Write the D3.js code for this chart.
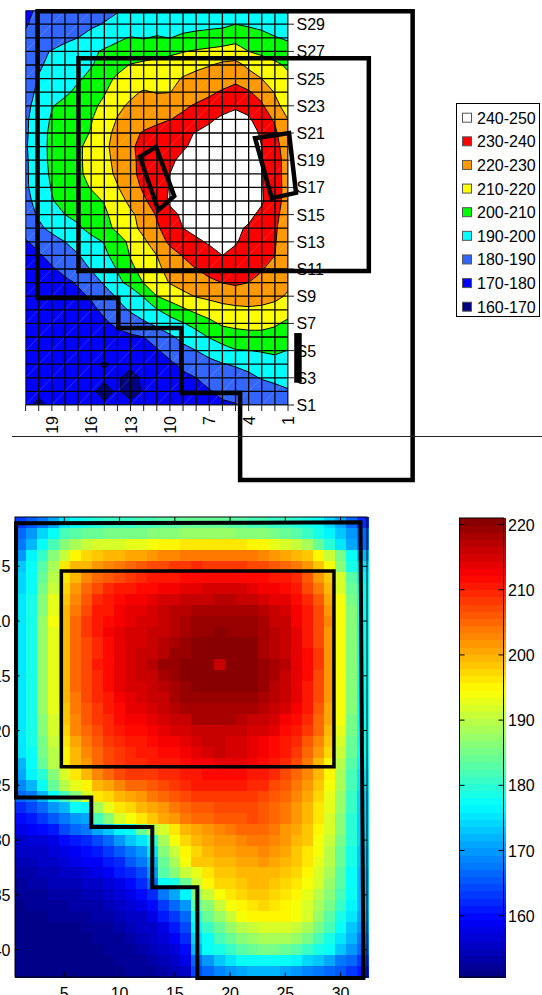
<!DOCTYPE html>
<html>
<head>
<meta charset="utf-8">
<title>Contour and heat map</title>
<script src="https://cdn.jsdelivr.net/npm/d3@7"></script>
<style>
  html, body { margin: 0; padding: 0; background: #fff; overflow: hidden; }
  svg { display: block; }
  text { font-family: "Liberation Sans", Arial, sans-serif; font-size: 16px; fill: #000; }
</style>
</head>
<body>
<svg id="chart" width="542" height="995"></svg>
<script>
// Upper chart: rows run from S30 (top) to S1, columns from 21 (left) to 1
const topValues = [
  [178,181.5,183,184,185,186,187.5,189.5,190.5,191,191.5,192,192,192.5,193,193,193,192,191,190.5,189],
  [179.5,182,184,185.5,187,188.5,190.5,192.5,193.5,194,194.5,195,196,197,197.5,198,200,198.5,197.5,196,194],
  [181,184,186,188,190,193,196,198.5,200.5,199.5,201,199.8,202,203,204,205,207,206,203,200.5,199],
  [183,188,190.5,193,196,198.5,201,203,204,205,206,207.5,209.5,211,212,213,214,210,208,205.5,203],
  [184,189,192,195,197.5,199.5,203,207,210.5,212,213.5,215,217,218.5,219.5,222,223,218,214.5,212,208.5],
  [186,190.5,193,196,199,202,207,211.5,213,215,216,218,220.5,222,224.5,226,228,224,220,216,212],
  [187,191.5,195,198.5,202,206,209.5,213.5,218,221,219.5,219.8,223,226,228.5,231,233,231,226,219.5,214.5],
  [188,193,199.5,202.5,205,208.5,211.5,218,221.5,223.5,225,226.5,228.5,231,233,236,238.5,236,231.5,222,217],
  [188.5,195,201,203.5,206.5,209.5,215,220.5,223,225.5,228,229.8,232,235,238.5,242,244,241.5,234,229,220],
  [188.5,196,202,205,207.5,210.5,217,222.5,227,231,233,235.5,238,240.5,243,245,246,243,239,231.5,223],
  [189,196.5,202,205.5,208.5,213,218,223.5,229,232,234.5,237,239,242,244,246,246.5,244,240,233,225],
  [188.5,196,202,205.5,208.5,213,217.5,222.5,228.5,232,235,238.5,242,244,246,247,247,245,240.5,234,226],
  [188.5,195.5,201.5,205,208.5,212.5,217,221.5,228,232.5,236,240,243,245,246.5,247.5,247,245,240.5,234,226],
  [188.5,195,200.5,204,207.5,210.5,214.5,219.5,225.5,231.5,236,240.5,243,245,246.5,247,246.5,245,240.5,234.5,226],
  [187.5,193,199.5,202.5,205,207.5,210.5,216.5,222,228.5,234.5,241.5,243.5,245,246,246.5,246,245,241,234,226],
  [186.5,191,196,200,202.5,205.5,208.5,213.5,218.5,223,231,237.5,241.5,243.5,245,245.5,244.5,242,238,232,226],
  [185,188.5,192,195,198.5,203,207,212,217,222.5,228.5,235,240,242.5,243.5,244,241.5,239,236,231,225.5],
  [179,183,187,190,193.5,197,200.5,206,212,218.5,224.5,232,235.5,238.5,241,242,240.5,238,235,230.5,225],
  [176,179,183,186.5,189.5,193.5,198,204,210.5,215,220,226,230.5,234,237,240,238.5,236,233.5,230,224],
  [173,176.5,179,182.5,186.5,190.5,195,200.5,208.5,212.5,218,223,226.5,230,233,235,235,233.5,230.5,227,222.5],
  [172,173.5,175.5,178,181,186,191,198.5,202,210.5,215.5,220.5,223,225.5,228,230.2,231.5,230,228,225,221.5],
  [171.5,172.5,174,176,178,181,186,191,196,200.5,210,214,218,220.5,222,223.5,224.5,225,224,222,219],
  [171,171.5,172.5,174,175.5,178,182,187,191,195.5,199.5,204,208.5,212.5,215,217,218,218.5,218,217,213],
  [171,171,172,173,174.5,176.5,178.5,182,185.5,188.5,192,196,199.5,203,207.5,211.5,212.5,213,212.5,211,208.5],
  [171,170.5,171,172,173,174.5,175.5,177,178.5,180,184.5,188.5,192.5,196.5,200.5,204,206,207,207.5,207,204],
  [171,170.5,171,171.5,172,172.5,172.5,173.5,175,177,179,184,187.5,190,193,196.5,199.5,199.8,201,203,199.5],
  [171,171,171,171,171,171,169.5,171,172,173,175,178,182.5,185,187.5,189.5,191,192,192.5,193.5,193.5],
  [171,171,171,171,171,171,171,171,167,171.5,173,175,177.5,180,182.5,184.5,186,188.5,190.5,191.5,192],
  [171,171,171,171,171,171,168,171,167,171,172,173.5,175,177,179.5,181.5,183.5,185,186.5,188,189.5],
  [171,169,171,171,171,171,171,171,172,172,172,172,173,174,176.5,179,179.5,182,183,185,186]
];
const topColTicks = [19, 16, 13, 10, 7, 4, 1];
const topRowTicks = [29, 27, 25, 23, 21, 19, 17, 15, 13, 11, 9, 7, 5, 3, 1];
const bandThresholds = [170, 180, 190, 200, 210, 220, 230, 240];
const bandColors = ["#0000ff", "#3366ff", "#00ffff", "#00ff00", "#ffff00", "#ff9900", "#ff0000", "#ffffff"];
const baseColor = "#000080";
const legendLabels = ["240-250", "230-240", "220-230", "210-220", "200-210", "190-200", "180-190", "170-180", "160-170"];
const legendColors = ["#ffffff", "#ff0000", "#ff9900", "#ffff00", "#00ff00", "#00ffff", "#3366ff", "#0000ff", "#000080"];

// Black outlines drawn over the upper chart, in [column, row] units
const topOutline = [[20.09,29.96],[-8.5,29.96],[-8.5,-4.51],[4.65,-4.51],[4.65,1.88],[9.14,1.88],[9.14,6.66],[13.93,6.66],[13.93,8.86],[20.09,8.86]];
const topInner = [[16.97,26.5],[-5.16,26.5],[-5.16,10.85],[16.97,10.85]];
const topLeftBox = [[12.29,19.25],[11.06,19.98],[9.67,16.36],[10.89,15.33]];
const topRightBox = [[3.51,20.62],[0.92,20.99],[0.39,16.6],[2.24,16.21]];
const topBar = [[0.24,6.29],[0.24,2.64]];

// Lower chart: 42 rows from top to bottom, 32 columns
const heatValues = [
  [163,165,168,171,175,178,179,180,181,181,181,182,182,183,183,184,184,184,184,183,183,182,182,181,181,180,179,177,174,171,167,162],
  [167,170,174,178,182,183,184,184,185,185,185,185,186,186,186,187,187,187,187,187,186,186,186,185,184,183,181,179,176,173,170,166],
  [168,172,178,182,186,189,191,192,192,192,193,193,194,195,195,196,196,196,196,196,196,195,195,193,192,191,188,184,180,175,171,167],
  [170,176,181,186,191,195,197,198,199,200,200.5,201,202,202.5,203,203.5,203.5,203.5,203.5,203.5,203.5,203.5,203,202,201,200,198,195,191,185,178,172],
  [173,177,183,189,196,199,200,202,203,204,205.5,206,207,207.5,208,208,209,208.5,208.5,208.5,208.5,207.5,207,206.5,205.5,204,202,198,194.5,186,179,175],
  [174,177.5,184,190,196,200,203,205,206.5,207.5,208.5,209.5,210,210.5,211,211.5,212,212,212,212,212,212,211.5,211,210.5,209,206,202,198,191.5,183,176],
  [174.5,178,185,191,197,202,205,207.5,209,210,211,211.5,212,213,213,213.5,214,214.5,215,215,214.5,214,213,212.5,212,210,207.5,204,199,192,184,177],
  [175,178.5,186,192.5,198,203,206,209,210.5,211.5,212.5,213,214,214.5,215,215.5,216,216,217,217,216.5,216,215,214,213.5,212,209.5,206,201,193.5,185,178],
  [175,179,186.5,193,199,204,207,210,211,212.5,213.5,214,214.5,216,217,217.5,218.5,218.5,218.5,218.5,218.5,218.5,217,216,215,212.5,210.5,207,202,194,186,178],
  [175,179,187,193.5,199.5,204.5,208,210.5,212,213,214,214.5,215,216.5,217.5,218,219,219,219,219,219,219,218,216.5,215.5,213,211,207.5,202.5,194,186,178],
  [175,179,187,193,199.5,205,208,210.5,212.5,214,214.5,215,216,216.5,217.5,218.5,219.5,219,220,219,219,219,218,217,216,213.5,211,207.5,202,194,186,178],
  [175,179,187,193,199.5,205,207.5,209.5,212,214,214.5,215,216,217,218,219,220.5,220.5,220.5,220.5,220.5,220,218.5,217.5,216,214,211,207.5,202,194,186,178],
  [175,179,187,193,199.5,204.5,207.5,209.5,212,214,215,215.5,216.5,217.5,219.5,219.5,220.5,220.5,220.5,220.5,220.5,220,218.5,217.5,216.5,214,211.5,208,202,194,186,178],
  [175,179,187,193,199.5,204.5,207.5,210,212,214,215,216,217,219,219,220.5,220.5,221,215.5,221,221,220,219,218,217,214,211.5,208,202,194,186,178],
  [175,179,187,193,199.5,204.5,207.5,209.5,212,214,215,215.5,216.5,218,219,220,221,221,221,221,221,220.5,219,218,216.5,214,211.5,207.5,202,194,186,178],
  [175,179,187,193,199.5,204.5,207,209,211.5,213.5,214.5,215,216,217,218.5,219.5,220.5,220.5,220.5,220.5,220.5,220,219,217.5,216,213.5,211,207.5,202,194,186,178],
  [175,179,187,192.5,199,204,207,209,211,213,214,214.5,215.5,216.5,218,219,219.5,219.5,219.5,219.5,219.5,219.5,218,217,215.5,213.5,211,207,201.5,194,186,178],
  [175,179,187,192.5,198.5,203.5,206.5,208.5,210.5,212,213.5,214,215,216,217,218,218.5,218.5,218.5,218.5,218.5,218,217,216,214.5,212.5,210,206.5,201,193.5,186,178],
  [175,179,186.5,192,198,203,206,208,209.5,211.5,212.5,213,214,215,215.5,216.5,218,218,218,218,217,216.5,215.5,214.5,213,211.5,209,205.5,200.5,193.5,185.5,178],
  [175,179,186,191.5,197,202.5,205,207,209,210.5,211.5,212,213,214,214.5,215,216,216.5,216.5,216,215.5,215,214.5,213.5,212,210.5,208,204.5,199.5,192.5,185,178],
  [175,178.5,185.5,191,196.5,201,204,206,208,209.5,210.5,211,212,212.5,213,214,215,215.5,215.5,215,214.5,214,213,212,211,209,206.5,203,198,191.5,184.5,177.5],
  [175,178,185,190,195.5,200,203,205,207,208.5,209.5,210,210.5,211.5,212,212.5,214,215,215.5,215,214.5,213.5,212.5,211.5,210,208,205.5,202,197,191,184,177],
  [172,177,184,189.5,195,199,202,205,207,208.5,209.5,209.5,210,210.5,211,211.5,212.5,213,214,213.5,213.5,212.5,211.5,210.5,209,207,204,200,195.5,190,183,176],
  [171,176,180,186,192,196,200,203,205,207,208,208,208.5,209,209.5,210,211,212,212,212,212,211,210,209,207.5,205.5,203,199,195,189,182,175],
  [169,172,178,184,189.5,193,195,199,201,203,205,205.5,206,207,208,209,210,210,210,210,210,209.5,209,207.5,206,204,202,198,194,188.5,182,175],
  [166,168,172.5,177.5,181.5,186.5,192,196,197.5,199,200.5,202,203.5,205,206,207.5,208,208,208,208,208,208,207.5,206.5,205,203,200.5,197,193,187.5,181,174.5],
  [162,164,167,170,172.5,177,176,189,193,196,197.5,199,200.5,202,203.5,205,206,206.5,207,207,207,207,206.5,205.5,204,202,200,196.5,192.5,187,180.5,174],
  [160,161,163.5,165.5,168,170,171,181.5,186,191.5,194,196,198,200.5,202,203.5,204.5,205.5,206,206.5,206.5,207,206,205,203.5,201.5,199.5,196,192,186.5,180,174],
  [158,159,160,161.5,164,166,167.5,171,173,176,178,184,190,192,196.5,199,200.5,202,203,204,205,205.5,205,203.5,202,200.5,198.5,195,191.5,186,180,174],
  [156,156.5,157,158,159.5,161,162.5,164,166.5,170,173,175,180,189,193.5,197,199,200.5,201.5,202,203,204,204,203,201.5,200,198,194.5,191,185.5,179.5,174],
  [155,155.5,156,156.5,158,159,160,161.5,163,165,167.5,170,175,186,191,195.5,197.5,199,200.5,201,201.5,202,202.5,202,200.5,198.5,196.5,193.5,190,184.5,179,173.5],
  [154,154.5,155,155.5,156.5,157.5,158.5,159,160.5,162,165,168,172.5,184.5,189,194.5,198,198.5,199.5,200,200.5,201,201.5,201,199.5,198,196,193,189.5,184,178.5,173],
  [153.5,153.5,154,154.5,155,155.5,156.5,157.5,159,160.5,162,164,170,182.5,186.5,191,193,196.5,198,198.5,199,199.5,200,199.5,198.5,197,195,192,188.5,183,178,172.5],
  [152.5,153,153.5,154,154,154.5,155,156,157,158,160,162,167,177.5,179,184,190.5,195.5,197,197.5,198,199,199,198.5,197,196,194,191.5,187.5,182.5,177.5,172],
  [152,152,152.5,153,153,153.5,154,154.5,155.5,156.5,158,160,162,168,171,176,186,190.5,194.5,196,197,198,198,197.5,196,195,193,190,186.5,181.5,177,172],
  [151.5,152,152,152,152.5,153,153,153.5,154,155,156.5,158,160,163,166,170,182.5,186.5,190.5,193.5,195.5,196.5,197,196.5,195.5,193.5,191.5,188.5,185,180.5,176,171.5],
  [151,151,151.5,152,152,152,152.5,153,153,154,155,156,158,160.5,163,167,178.5,184.5,187.5,190.5,193.5,195,195.5,195.5,194.8,194.5,192,187,183.5,179,175,171],
  [151,151,151,151,151.5,151.5,152,152,152.5,153,154,155,156,158,160.5,164,176,181,184.5,187.5,190,191,191.5,191.5,191.5,191,188.5,185,181.5,177.5,173.5,170],
  [151,151,151,151,151,151,151.5,152,152,152.5,153,154,155,156.5,158.5,162,174,178,181.5,184.5,186.5,187.5,188,188,188,187,185,182,179,175.5,171.5,168],
  [151,151,151,151,151,151,151,151.5,152,152,152.5,153,154,155,156.5,160,172,177,179,181,183.5,184.5,185,185,184.5,183.5,181,179,177,173,170,166.5],
  [151,151,151,151,151,151,151,151,151.5,152,152,152.5,153,154,155,158,166,170,173,175.5,177,178,178,178,177,176,174.5,173,170.5,168,166,163.5],
  [151,151,151,151,151,151,151,151,151,151.5,152,152,152.5,153,154,156,164,167,168.5,170,171,172.5,172.5,172,171,170,169,168,166.5,165,163,161]
];
const heatXTicks = [5, 10, 15, 20, 25, 30];
const heatYTicks = [5, 10, 15, 20, 25, 30, 35, 40];
const colorbarTicks = [160, 170, 180, 190, 200, 210, 220];
const colorRange = [150.6, 221];

// Black outlines drawn over the lower chart, in [column, row] units
const heatOutline = [[0.63,1.08],[31.8,0.99],[32.07,42.6],[17.04,42.6],[17.04,34.3],[12.96,34.3],[12.96,28.8],[7.44,28.8],[7.44,26.1],[0.63,26.1]];
const heatInner = [[4.73,5.43],[29.4,5.43],[29.4,23.3],[4.73,23.3]];

const COLOR_LEVELS = 64;

// Same stops as the MATLAB jet map
const jet = d3
  .scaleLinear()
  .domain([0, 0.125, 0.375, 0.625, 0.875, 1])
  .range(["#000080", "#0000ff", "#00ffff", "#ffff00", "#ff0000", "#800000"])
  .clamp(true);

function levelColor(level) {
  return jet((level + 0.5) / COLOR_LEVELS);
}

function valueColor(value) {
  const t = (value - colorRange[0]) / (colorRange[1] - colorRange[0]);
  return levelColor(Math.max(0, Math.min(COLOR_LEVELS - 1, Math.floor(t * COLOR_LEVELS))));
}

const svg = d3.select("#chart");
const polyLine = d3.line();

function drawOutline(parent, points, x, y, width, closed) {
  parent
    .append("path")
    .attr("d", polyLine(points.map((p) => [x(p[0]), y(p[1])])) + (closed ? "Z" : ""))
    .attr("fill", "none")
    .attr("stroke", "#000")
    .attr("stroke-width", width)
    .attr("stroke-linejoin", "miter");
}

function drawContours() {
  const x = d3.scaleLinear().domain([21, 1]).range([25.6, 288]);
  const y = d3.scaleLinear().domain([30, 1]).range([10.6, 405]);
  const nCols = topValues[0].length;
  const nRows = topValues.length;
  const g = svg.append("g");

  g.append("clipPath")
    .attr("id", "topClip")
    .append("rect")
    .attr("x", x(21))
    .attr("y", y(30))
    .attr("width", x(1) - x(21))
    .attr("height", y(1) - y(30));

  const plot = g.append("g").attr("clip-path", "url(#topClip)");

  plot
    .append("rect")
    .attr("x", x(21))
    .attr("y", y(30))
    .attr("width", x(1) - x(21))
    .attr("height", y(1) - y(30))
    .attr("fill", baseColor);

  // d3.contours puts grid value i at i + 0.5
  const toPixels = d3.geoTransform({
    point(u, v) {
      this.stream.point(x(21 - (u - 0.5)), y(30 - (v - 0.5)));
    },
  });
  const contourPath = d3.geoPath(toPixels);
  const bands = d3
    .contours()
    .size([nCols, nRows])
    .thresholds(bandThresholds)(topValues.flat());

  plot
    .selectAll("path.band")
    .data(bands)
    .join("path")
    .attr("class", "band")
    .attr("d", contourPath)
    .attr("fill", (d, i) => bandColors[i])
    .attr("stroke", "#000")
    .attr("stroke-width", 1);

  // pale diagonals the original renderer leaves in the cells
  const diagonals = plot.append("g").attr("stroke", "#fff").attr("stroke-opacity", 0.18);
  for (let col = 2; col <= 21; col++) {
    for (let row = 1; row < 30; row++) {
      if ((col + row) % 2) continue;
      diagonals
        .append("line")
        .attr("x1", x(col))
        .attr("y1", y(row))
        .attr("x2", x(col - 1))
        .attr("y2", y(row + 1));
    }
  }

  const grid = plot.append("g").attr("stroke", "#000").attr("stroke-width", 1.3);
  d3.range(1, 22).forEach((col) => {
    grid.append("line").attr("x1", x(col)).attr("x2", x(col)).attr("y1", y(30)).attr("y2", y(1));
  });
  d3.range(1, 31).forEach((row) => {
    grid.append("line").attr("x1", x(21)).attr("x2", x(1)).attr("y1", y(row)).attr("y2", y(row));
  });

  // tick marks and labels
  const axes = g.append("g").attr("stroke", "#222").attr("stroke-width", 1);
  axes.append("line").attr("x1", x(21)).attr("x2", x(1)).attr("y1", y(1)).attr("y2", y(1));
  axes.append("line").attr("x1", x(1)).attr("x2", x(1)).attr("y1", y(30)).attr("y2", y(1));
  d3.range(1, 22).forEach((col) => {
    axes.append("line").attr("x1", x(col)).attr("x2", x(col)).attr("y1", y(1)).attr("y2", y(1) + 6);
  });
  topRowTicks.forEach((row) => {
    axes.append("line").attr("x1", x(1)).attr("x2", x(1) + 6).attr("y1", y(row)).attr("y2", y(row));
  });

  g.selectAll("text.col")
    .data(topColTicks)
    .join("text")
    .attr("class", "col")
    .attr("text-anchor", "end")
    .attr("transform", (d) => `translate(${x(d) + 6},416) rotate(-90)`)
    .text((d) => d);

  g.selectAll("text.row")
    .data(topRowTicks)
    .join("text")
    .attr("class", "row")
    .attr("x", 296.5)
    .attr("y", (d) => y(d) + 6)
    .text((d) => "S" + d);

  const overlay = g.append("g");
  drawOutline(overlay, topOutline, x, y, 4.5, true);
  drawOutline(overlay, topInner, x, y, 4.5, true);
  drawOutline(overlay, topLeftBox, x, y, 4.5, true);
  drawOutline(overlay, topRightBox, x, y, 4.5, true);
  drawOutline(overlay, topBar, x, y, 7.5, false);

  // rule between the two charts
  svg
    .append("line")
    .attr("x1", 12)
    .attr("x2", 542)
    .attr("y1", 436.5)
    .attr("y2", 436.5)
    .attr("stroke", "#222")
    .attr("stroke-width", 1);
}

function drawLegend() {
  const g = svg.append("g");
  const y = d3
    .scalePoint()
    .domain(legendLabels)
    .range([117.7, 306.7]);

  g.append("rect")
    .attr("x", 456.5)
    .attr("y", 103.5)
    .attr("width", 83)
    .attr("height", 213)
    .attr("fill", "#fff")
    .attr("stroke", "#000");

  const rows = g
    .selectAll("g")
    .data(legendLabels)
    .join("g")
    .attr("transform", (d) => `translate(0,${y(d)})`);

  rows
    .append("rect")
    .attr("x", 462.5)
    .attr("y", -4.5)
    .attr("width", 9)
    .attr("height", 9)
    .attr("fill", (d, i) => legendColors[i])
    .attr("stroke", "#555");

  rows
    .append("text")
    .attr("x", 477)
    .attr("y", 6)
    .text((d) => d);
}

function drawHeatmap() {
  const x = d3.scaleLinear().domain([0.5, 32.5]).range([14.6, 368.2]);
  const y = d3.scaleLinear().domain([0.5, 42.5]).range([517, 977]);
  const g = svg.append("g");

  const cells = g.append("g").attr("shape-rendering", "crispEdges");
  heatValues.forEach((row, r) => {
    cells
      .append("g")
      .selectAll("rect")
      .data(row)
      .join("rect")
      .attr("x", (d, c) => x(c + 0.5))
      .attr("y", y(r + 0.5))
      .attr("width", x(1.5) - x(0.5) + 0.5)
      .attr("height", y(1.5) - y(0.5) + 0.5)
      .attr("fill", (d) => valueColor(d));
  });

  const left = x(0.5) + 0.4;
  const right = 367;
  const top = y(0.5);
  const bottom = y(42.5);

  g.append("rect")
    .attr("x", left)
    .attr("y", top)
    .attr("width", right - left)
    .attr("height", bottom - top)
    .attr("fill", "none")
    .attr("stroke", "#000");

  const ticks = g.append("g").attr("stroke", "#000");
  heatXTicks.forEach((t) => {
    ticks.append("line").attr("x1", x(t)).attr("x2", x(t)).attr("y1", bottom).attr("y2", bottom - 4.5);
    ticks.append("line").attr("x1", x(t)).attr("x2", x(t)).attr("y1", top).attr("y2", top + 4.5);
  });
  heatYTicks.forEach((t) => {
    ticks.append("line").attr("y1", y(t)).attr("y2", y(t)).attr("x1", left).attr("x2", left + 4.5);
    ticks.append("line").attr("y1", y(t)).attr("y2", y(t)).attr("x1", right).attr("x2", right - 4.5);
  });

  g.selectAll("text.x")
    .data(heatXTicks)
    .join("text")
    .attr("class", "x")
    .attr("text-anchor", "middle")
    .attr("x", (d) => x(d))
    .attr("y", 998.5)
    .text((d) => d);

  g.selectAll("text.y")
    .data(heatYTicks)
    .join("text")
    .attr("class", "y")
    .attr("text-anchor", "end")
    .attr("x", 10.5)
    .attr("y", (d) => y(d) + 6)
    .text((d) => d);

  const overlay = g.append("g");
  drawOutline(overlay, heatOutline, x, y, 4, true);
  drawOutline(overlay, heatInner, x, y, 3.5, true);
}

function drawColorbar() {
  const g = svg.append("g");
  const y = d3.scaleLinear().domain(colorRange).range([977, 518]);
  const band = (colorRange[1] - colorRange[0]) / COLOR_LEVELS;

  g.append("g")
    .attr("shape-rendering", "crispEdges")
    .selectAll("rect.level")
    .data(d3.range(COLOR_LEVELS))
    .join("rect")
    .attr("class", "level")
    .attr("x", 459)
    .attr("width", 46.5)
    .attr("y", (d) => y(colorRange[0] + (d + 1) * band))
    .attr("height", y(colorRange[0]) - y(colorRange[0] + band) + 0.5)
    .attr("fill", (d) => levelColor(d));

  g.append("rect")
    .attr("x", 459.5)
    .attr("y", 518)
    .attr("width", 44)
    .attr("height", 459)
    .attr("fill", "none")
    .attr("stroke", "#000");

  const ticks = g.append("g").attr("stroke", "#000");
  colorbarTicks.forEach((t) => {
    ticks.append("line").attr("x1", 459.5).attr("x2", 464.5).attr("y1", y(t)).attr("y2", y(t));
    ticks.append("line").attr("x1", 498.5).attr("x2", 503.5).attr("y1", y(t)).attr("y2", y(t));
  });

  g.selectAll("text")
    .data(colorbarTicks)
    .join("text")
    .attr("x", 508)
    .attr("y", (d) => y(d) + 6)
    .text((d) => d);
}

drawContours();
drawLegend();
drawHeatmap();
drawColorbar();
</script>
</body>
</html>
